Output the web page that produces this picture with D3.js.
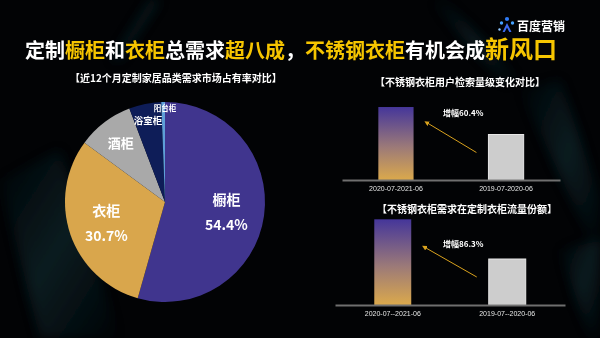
<!DOCTYPE html>
<html>
<head>
<meta charset="utf-8">
<script src="https://cdn.jsdelivr.net/npm/d3@7/dist/d3.min.js"></script>
<style>
  html, body { margin: 0; padding: 0; background: #000; }
  svg { display: block; font-family: "Noto Sans CJK SC", "Noto Sans", sans-serif; }
</style>
</head>
<body>
<svg id="chart" width="600" height="338"></svg>
<script>
// Market share of custom home furnishing categories (last 12 months), %
const pieCategories = ["橱柜", "衣柜", "酒柜", "浴室柜", "阳台柜"];
const pieValues = [54.4, 30.7, 9.1, 5.2, 0.6];
const pieColors = ["#40358e", "#d9a64c", "#a9a9a9", "#0e1d58", "#5e9fd8"];

// Period labels for the bar comparisons
const periodsSearch = ["2020-07-2021-06", "2019-07-2020-06"];
const periodsShare = ["2020-07--2021-06", "2019-07--2020-06"];
// Indexed values (previous period = 100)
const searchValues = [160.4, 100];
const shareValues = [186.3, 100];
const searchGrowthLabel = "增幅60.4%";
const shareGrowthLabel = "增幅86.3%";

const svg = d3.select("#chart");
const defs = svg.append("defs");

// ---- background: black with soft teal light streaks ----
svg.append("rect").attr("width", 600).attr("height", 338).attr("fill", "#020305");
const blur = defs.append("filter").attr("id", "soft").attr("x", "-50%").attr("y", "-50%").attr("width", "200%").attr("height", "200%");
blur.append("feGaussianBlur").attr("stdDeviation", 6);
const streak = defs.append("linearGradient").attr("id", "streak").attr("x1", 0).attr("y1", 0).attr("x2", 1).attr("y2", 1);
streak.append("stop").attr("offset", "0%").attr("stop-color", "#1d5560").attr("stop-opacity", 0);
streak.append("stop").attr("offset", "50%").attr("stop-color", "#1d5560").attr("stop-opacity", 0.55);
streak.append("stop").attr("offset", "100%").attr("stop-color", "#1d5560").attr("stop-opacity", 0);
const streaks = [
  "M0,180 L60,150 L120,338 L40,338 Z",
  "M520,90 L560,80 L600,200 L600,260 Z",
  "M430,0 L445,0 L520,80 L505,85 Z",
  "M150,0 L160,0 L120,60 L112,60 Z",
  "M560,250 L600,240 L600,338 L590,338 Z"
];
svg.append("g").attr("filter", "url(#soft)").selectAll("path").data(streaks).join("path")
  .attr("d", d => d).attr("fill", "url(#streak)").attr("opacity", 0.55);

// ---- headline ----
const title = svg.append("text").attr("x", 25).attr("y", 58)
  .attr("font-size", 20).attr("font-weight", 700).attr("fill", "#ffffff");
const yellow = "#f6c500";
[["定制", "#fff"], ["橱柜", yellow], ["和", "#fff"], ["衣柜", yellow], ["总需求", "#fff"],
 ["超八成", yellow], ["，", "#fff"], ["不锈钢衣柜", yellow], ["有机会成", "#fff"]]
  .forEach(([t, c]) => title.append("tspan").attr("fill", c).text(t));
title.append("tspan").attr("fill", yellow).attr("font-size", 24).text("新风口");

// ---- brand mark ----
const logo = svg.append("g").attr("transform", "translate(507,25)");
logo.append("circle").attr("cx", 0).attr("cy", -6).attr("r", 2.1).attr("fill", "#2f7bf5");
logo.append("circle").attr("cx", -5.5).attr("cy", -2).attr("r", 1.7).attr("fill", "#46a2ff");
logo.append("circle").attr("cx", 5.5).attr("cy", -2).attr("r", 1.7).attr("fill", "#46a2ff");
logo.append("path").attr("d", "M-4.5,7 L0,-2 L4.5,7 L2.3,7 L0,2.5 L-2.3,7 Z").attr("fill", "#3d6cf0");
logo.append("circle").attr("cx", -7.5).attr("cy", 4.5).attr("r", 1.2).attr("fill", "#8fc6ff");
svg.append("text").attr("x", 517).attr("y", 31).attr("font-size", 12).attr("font-weight", 700)
  .attr("fill", "#fff").text("百度营销");

// ---- pie ----
svg.append("text").attr("x", 70).attr("y", 82).attr("font-size", 10).attr("font-weight", 700)
  .attr("fill", "#fff").text("【近12个月定制家居品类需求市场占有率对比】");

const pieData = pieCategories.map((c, i) => ({ name: c, value: pieValues[i], color: pieColors[i] }));
const pie = d3.pie().value(d => d.value).sort(null);
const R = 100;
const arc = d3.arc().innerRadius(0).outerRadius(R);
const pg = svg.append("g").attr("transform", "translate(165,202)");
const arcs = pie(pieData);
pg.selectAll("path").data(arcs).join("path")
  .attr("d", arc).attr("fill", d => d.data.color);

// labels: name + value for the two large slices, name only for the others
const labelSpec = {
  "橱柜": { r: 0.62, size: 14, showValue: true },
  "衣柜": { r: 0.62, size: 14, showValue: true },
  "酒柜": { r: 0.73, size: 13, showValue: false },
  "浴室柜": { r: 0.86, size: 9.5, showValue: false },
  "阳台柜": { r: 0.94, size: 7.5, showValue: false }
};
arcs.forEach(a => {
  const s = labelSpec[a.data.name];
  const mid = (a.startAngle + a.endAngle) / 2;
  let x = Math.sin(mid) * R * s.r;
  let y = -Math.cos(mid) * R * s.r;
  // the two thin slices carry their names just beside the slice edge
  if (a.data.name === "阳台柜") { x = 0; y = -R * 0.94; }
  if (a.data.name === "浴室柜") { x = -17; y = -R * 0.81; }
  const g = pg.append("g").attr("transform", `translate(${x},${y})`);
  g.append("text").attr("text-anchor", "middle").attr("font-size", s.size).attr("font-weight", 700)
    .attr("fill", "#fff").attr("dy", s.showValue ? -6 : s.size * 0.35).text(a.data.name);
  if (s.showValue) {
    g.append("text").attr("text-anchor", "middle").attr("font-size", 14).attr("font-weight", 700)
      .attr("fill", "#fff").attr("dy", 19).text(d3.format(".1f")(a.data.value) + "%");
  }
});

// ---- bar comparisons ----
const barGrad = defs.append("linearGradient").attr("id", "barGrad").attr("x1", 0).attr("y1", 0).attr("x2", 0).attr("y2", 1);
barGrad.append("stop").attr("offset", "0%").attr("stop-color", "#45369a");
barGrad.append("stop").attr("offset", "55%").attr("stop-color", "#9c7a78");
barGrad.append("stop").attr("offset", "100%").attr("stop-color", "#dba94c");
const arrowHead = defs.append("marker").attr("id", "arrow").attr("viewBox", "0 0 10 10")
  .attr("refX", 5).attr("refY", 5).attr("markerWidth", 5).attr("markerHeight", 5).attr("orient", "auto-start-reverse");
arrowHead.append("path").attr("d", "M0,0 L10,5 L0,10 Z").attr("fill", "#d9a21e");

function barPanel(o) {
  const g = svg.append("g");
  g.append("text").attr("x", o.titleX).attr("y", o.titleY).attr("font-size", 10).attr("font-weight", 700)
    .attr("fill", "#fff").text(o.title);
  const x = d3.scaleBand().domain(o.periods).range([o.x0, o.x1])
    .paddingInner(o.padIn).paddingOuter(o.padOut);
  const y = d3.scaleLinear().domain([0, o.max]).range([o.baseY, o.topY]);
  const data = o.periods.map((p, i) => ({ p, v: o.values[i] }));
  g.selectAll("rect.bar").data(data).join("rect").attr("class", "bar")
    .attr("x", d => x(d.p)).attr("width", x.bandwidth())
    .attr("y", d => y(d.v)).attr("height", d => y(0) - y(d.v))
    .attr("fill", (d, i) => i === 0 ? "url(#barGrad)" : "#cdcdcd")
    .attr("stroke", (d, i) => i === 0 ? "none" : "#e8e8e8").attr("stroke-width", 1);
  // baseline axis with period labels
  const axis = d3.axisBottom(x).tickSize(0).tickPadding(6);
  const ag = g.append("g").attr("transform", `translate(0,${o.baseY})`).call(axis);
  ag.select(".domain").attr("stroke", "#6f6f6f").attr("stroke-width", 2.2);
  ag.selectAll("text").attr("fill", "#e6e6e6").attr("font-size", 7)
    .attr("font-family", "'Liberation Sans', Arial, sans-serif");
  // growth annotation
  const [cur, prev] = data;
  const ax0 = x(prev.p) - 12, ay0 = y(prev.v) + 18;
  const ax1 = x(cur.p) + x.bandwidth() + 13, ay1 = y(prev.v) - 12;
  g.append("line").attr("x1", ax0).attr("y1", ay0).attr("x2", ax1).attr("y2", ay1)
    .attr("stroke", "#d9a21e").attr("stroke-width", 1).attr("marker-end", "url(#arrow)");
  g.append("text").attr("x", o.noteX).attr("y", o.noteY).attr("font-size", 8).attr("font-weight", 700)
    .attr("fill", "#fff").text(o.note);
}

barPanel({
  title: "【不锈钢衣柜用户检索量级变化对比】", titleX: 375, titleY: 86,
  periods: periodsSearch, values: searchValues, max: 200,
  x0: 342, x1: 560, padIn: 0.68, padOut: 0.33, baseY: 180, topY: 89,
  note: searchGrowthLabel, noteX: 443, noteY: 116
});
barPanel({
  title: "【不锈钢衣柜需求在定制衣柜流量份额】", titleX: 377, titleY: 213,
  periods: periodsShare, values: shareValues, max: 200,
  x0: 335, x1: 565, padIn: 0.677, padOut: 0.343, baseY: 305, topY: 213,
  note: shareGrowthLabel, noteX: 443, noteY: 247
});
</script>
</body>
</html>
